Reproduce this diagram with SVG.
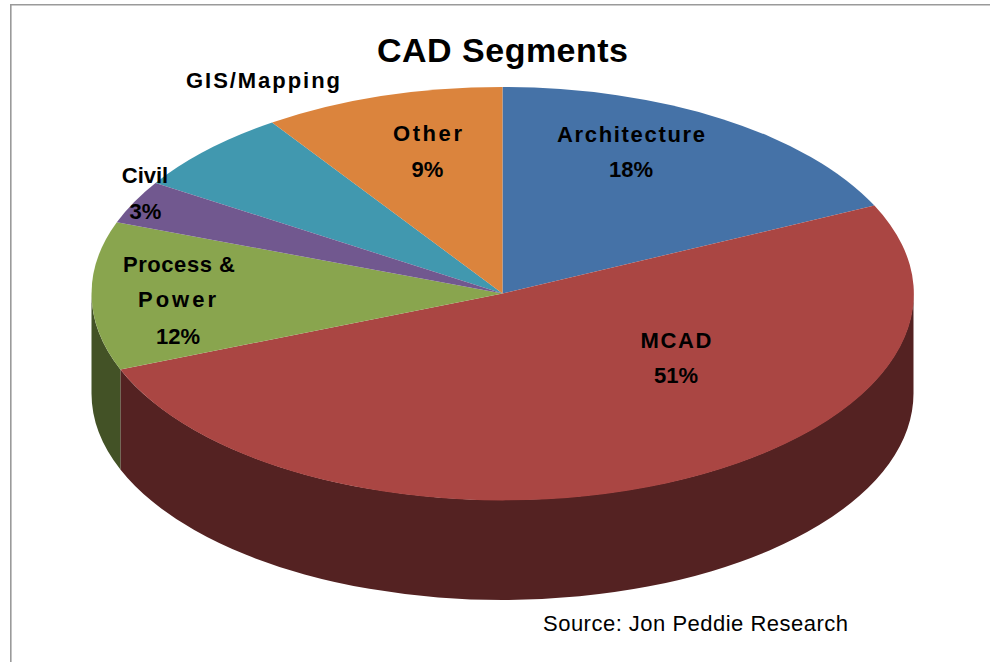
<svg xmlns="http://www.w3.org/2000/svg" width="990" height="662" viewBox="0 0 990 662">
<style>
.lbl{font-family:"Liberation Sans",Arial,sans-serif;font-weight:bold;font-size:22px;fill:#000;text-anchor:middle}
.ttl{font-family:"Liberation Sans",Arial,sans-serif;font-weight:bold;font-size:34px;fill:#000;text-anchor:middle}
.src{font-family:"Liberation Sans",Arial,sans-serif;font-size:22px;fill:#000}
.frame{stroke:#9a9a9a;stroke-width:1.6;fill:none}
</style>
<rect width="990" height="662" fill="#fff"/>
<path class="frame" d="M10.8 662 V4.8 H990"/>
<text class="ttl" x="502.5" y="62" textLength="251">CAD Segments</text>

<g id="side-walls">
<path d="M913.5 293.5 A411 206.5 0 0 1 120.4 369.5 L120.4 469.5 A411 206.5 0 0 0 913.5 393.5 Z" fill="#542222"/>
<path d="M120.4 369.5 A411 206.5 0 0 1 91.5 293.5 L91.5 393.5 A411 206.5 0 0 0 120.4 469.5 Z" fill="#435226"/>
</g>

<g id="architecture">
<path d="M502.5 293.5 L502.5 87 A411 206.5 0 0 1 874.4 205.6 Z" fill="#4572A7"/>
<text class="lbl" x="631" y="142" textLength="148">Architecture</text>
<text class="lbl" x="631" y="177">18%</text>
</g>
<g id="mcad">
<path d="M502.5 293.5 L874.4 205.6 A411 206.5 0 1 1 120.4 369.5 Z" fill="#AA4643"/>
<text class="lbl" x="676" y="348" textLength="71">MCAD</text>
<text class="lbl" x="676" y="383">51%</text>
</g>
<g id="process-power">
<path d="M502.5 293.5 L120.4 369.5 A411 206.5 0 0 1 116.8 222.2 Z" fill="#89A54E"/>
<text class="lbl" x="179" y="272" textLength="112">Process &amp;</text>
<text class="lbl" x="177" y="307" textLength="78">Power</text>
<text class="lbl" x="178" y="344">12%</text>
</g>
<g id="gis-mapping">
<path d="M502.5 293.5 L155.5 182.9 A411 206.5 0 0 1 272.1 122.5 Z" fill="#4198AF"/>
<text class="lbl" x="263" y="88" textLength="154">GIS/Mapping</text>
</g>
<g id="other">
<path d="M502.5 293.5 L272.1 122.5 A411 206.5 0 0 1 502.5 87 Z" fill="#DB843D"/>
<text class="lbl" x="427.5" y="141" textLength="69">Other</text>
<text class="lbl" x="427.5" y="177">9%</text>
</g>
<g id="civil">
<path d="M502.5 293.5 L116.8 222.2 A411 206.5 0 0 1 155.5 182.9 Z" fill="#71588F"/>
<text class="lbl" x="145" y="183">Civil</text>
<text class="lbl" x="145.5" y="219">3%</text>
</g>

<text class="src" x="543" y="631" textLength="305">Source: Jon Peddie Research</text>
</svg>
